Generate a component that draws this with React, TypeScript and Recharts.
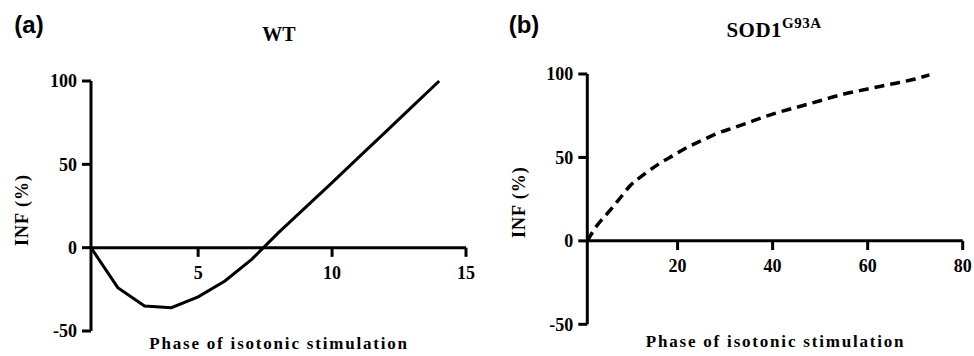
import React from 'react';
import { LineChart, Line, XAxis, YAxis, ReferenceLine } from 'recharts';

// panel (a) WT
const wtPhase = [1, 2, 3, 4, 5, 6, 7, 8, 9, 10, 11, 12, 13, 14];
const wtInf = [0, -24, -35, -36, -29.5, -20, -7, 9, 24, 39, 54.3, 69.5, 84.8, 100];
const wtTicksX = [5, 10, 15];

// panel (b) SOD1 G93A
const sodPhase = [1, 3, 6, 8, 10, 13, 16, 19, 22, 25, 28, 32, 36, 40, 45, 50, 55, 60, 65, 70, 73];
const sodInf = [0, 9, 19, 26, 33, 40, 46, 51, 56, 60, 64, 68, 72, 76, 80, 84, 88, 91, 94, 97, 99.5];
const sodTicksX = [20, 40, 60, 80];

const yTicks = [-50, 0, 50, 100];

const SERIF = '"Liberation Serif", "Times New Roman", serif';
const SANS = '"Liberation Sans", Arial, sans-serif';

const toRows = (xs: number[], ys: number[]) => xs.map((x, i) => ({ phase: x, inf: ys[i] }));

const tickFont = { fontFamily: SERIF, fontWeight: 700, fontSize: 18, fill: '#000' };

interface PanelProps {
    rows: { phase: number; inf: number }[];
    left: number;
    axisWidth: number;
    margin: { top: number; right: number; bottom: number; left: number };
    xDomain: [number, number];
    xTicks: number[];
    dashed?: boolean;
    labelDx: number;
    labelDy: number;
}

const Panel: React.FC<PanelProps> = ({ rows, left, axisWidth, margin, xDomain, xTicks, dashed, labelDx, labelDy }) => (
    <div style={{ position: 'absolute', left, top: 0 }}>
        <LineChart width={487} height={356} data={rows} margin={margin}>
            <XAxis dataKey="phase" type="number" domain={xDomain} hide allowDataOverflow />
            <YAxis
                type="number"
                domain={[-50, 100]}
                ticks={yTicks}
                width={axisWidth}
                interval={0}
                axisLine={{ stroke: '#000', strokeWidth: 3 }}
                tickLine={{ stroke: '#000', strokeWidth: 3 }}
                tickSize={9}
                tickMargin={5}
                tick={tickFont}
                label={{
                    value: 'INF (%)',
                    angle: -90,
                    position: 'insideLeft',
                    offset: 0,
                    dx: labelDx,
                    dy: labelDy,
                    className: 'ylab',
                    style: { textAnchor: 'middle', fill: '#000' }
                }}
            />
            <ReferenceLine y={0} stroke="#000" strokeWidth={3} />
            {xTicks.map(t => (
                <ReferenceLine
                    key={t}
                    segment={[{ x: t, y: 0 }, { x: t, y: -5.5 }]}
                    stroke="#000"
                    strokeWidth={3}
                    label={{ value: String(t), position: 'bottom', offset: 9, style: tickFont }}
                />
            ))}
            <Line
                dataKey="inf"
                type={dashed ? 'monotone' : 'linear'}
                stroke="#000"
                strokeWidth={dashed ? 3.5 : 3}
                strokeDasharray={dashed ? '10 6' : undefined}
                dot={false}
                isAnimationActive={false}
            />
        </LineChart>
    </div>
);

const Txt: React.FC<{ x: number; y: number; style?: React.CSSProperties; children: React.ReactNode }> = ({ x, y, style, children }) => (
    <div
        style={{
            position: 'absolute',
            left: x,
            top: y,
            transform: 'translate(-50%, -50%)',
            whiteSpace: 'nowrap',
            lineHeight: 1,
            color: '#000',
            ...style
        }}
    >
        {children}
    </div>
);

const css = `
svg text { font-family: ${SERIF}; font-weight: 700; font-size: 18px; fill: #000; }
svg text.ylab, svg .ylab text { font-size: 18px; letter-spacing: 1px; }
`;

export default function App() {
    const xTitle = { fontFamily: SERIF, fontWeight: 700, fontSize: 17, letterSpacing: 1.8 };
    return (
        <div style={{ position: 'absolute', left: 0, top: 0, width: 974, height: 356, background: '#fff', overflow: 'hidden' }}>
            <style>{css}</style>
            <Panel
                rows={toRows(wtPhase, wtInf)}
                left={0}
                axisWidth={91}
                margin={{ top: 81, right: 21, bottom: 25, left: 0 }}
                xDomain={[1, 15]}
                xTicks={wtTicksX}
                labelDx={22}
                labelDy={4}
            />
            <Panel
                rows={toRows(sodPhase, sodInf)}
                left={487}
                axisWidth={100.3}
                margin={{ top: 74, right: 11.3, bottom: 31.7, left: 0 }}
                xDomain={[1, 80]}
                xTicks={sodTicksX}
                dashed
                labelDx={32}
                labelDy={3}
            />
            <Txt x={29} y={25} style={{ fontFamily: SANS, fontWeight: 700, fontSize: 24 }}>(a)</Txt>
            <Txt x={524} y={25} style={{ fontFamily: SANS, fontWeight: 700, fontSize: 24 }}>(b)</Txt>
            <Txt x={279} y={34} style={{ fontFamily: SERIF, fontWeight: 700, fontSize: 20 }}>WT</Txt>
            <Txt x={774} y={30} style={{ fontFamily: SERIF, fontWeight: 700, fontSize: 21, letterSpacing: 0.5 }}>
                SOD1<sup style={{ fontSize: 15, verticalAlign: 'top', position: 'relative', top: -4 }}>G93A</sup>
            </Txt>
            <Txt x={279} y={343} style={xTitle}>Phase of isotonic stimulation</Txt>
            <Txt x={775.5} y={341} style={xTitle}>Phase of isotonic stimulation</Txt>
        </div>
    );
}
